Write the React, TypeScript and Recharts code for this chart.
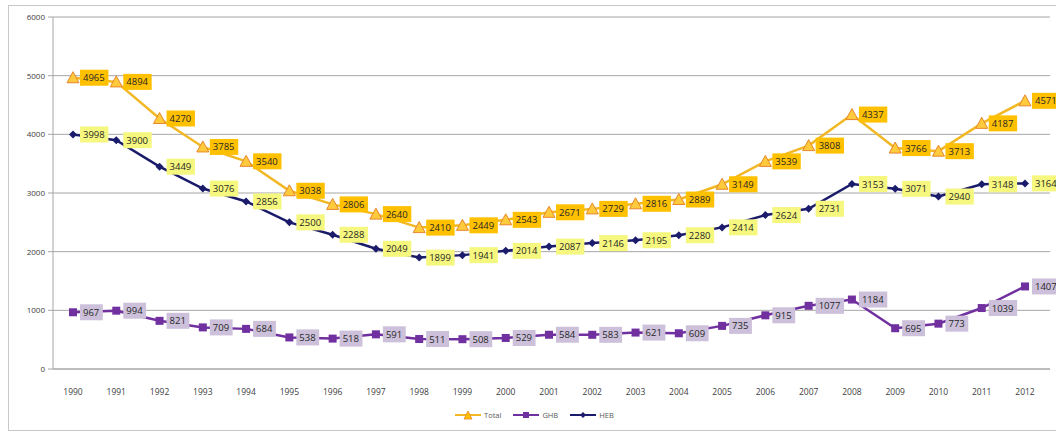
import React from 'react'
import { LineChart, Line, XAxis, YAxis, CartesianGrid, LabelList } from 'recharts'

const years = ['1990', '1991', '1992', '1993', '1994', '1995', '1996', '1997', '1998', '1999', '2000', '2001', '2002', '2003', '2004', '2005', '2006', '2007', '2008', '2009', '2010', '2011', '2012']
const total = [4965, 4894, 4270, 3785, 3540, 3038, 2806, 2640, 2410, 2449, 2543, 2671, 2729, 2816, 2889, 3149, 3539, 3808, 4337, 3766, 3713, 4187, 4571]
const ghb = [967, 994, 821, 709, 684, 538, 518, 591, 511, 508, 529, 584, 583, 621, 609, 735, 915, 1077, 1184, 695, 773, 1039, 1407]
const heb = [3998, 3900, 3449, 3076, 2856, 2500, 2288, 2049, 1899, 1941, 2014, 2087, 2146, 2195, 2280, 2414, 2624, 2731, 3153, 3071, 2940, 3148, 3164]
const yTicks = [0, 1000, 2000, 3000, 4000, 5000, 6000]

const data = years.map((year, i) => ({ year, Total: total[i], GHB: ghb[i], HEB: heb[i] }))

const FONT = '"Open Sans", sans-serif'
const TOTAL_LINE = '#F2B824'
const TOTAL_FILL = '#FFC000'
const GHB_COLOR = '#7030A0'
const HEB_COLOR = '#1B1B6B'

const makeLabel = (bg: string) => (props: any) => {
  const { x, y, value } = props
  const w = String(value).length * 5.6 + 6
  return (
    <g>
      <rect x={x + 7} y={y - 8} width={w} height={16} fill={bg} />
      <text x={x + 10} y={y + 3.5} fontSize={9.5} fontFamily={FONT} fill="#262626">
        {value}
      </text>
    </g>
  )
}

const TriangleDot = (props: any) => {
  const { cx, cy } = props
  if (cx == null || cy == null) return null
  return (
    <polygon
      points={`${cx},${cy - 6} ${cx + 6},${cy + 5} ${cx - 6},${cy + 5}`}
      fill="#FFCB3D"
      stroke="#E8862A"
      strokeWidth={1}
    />
  )
}

const SquareDot = (props: any) => {
  const { cx, cy } = props
  if (cx == null || cy == null) return null
  return <rect x={cx - 4} y={cy - 4} width={8} height={8} fill={GHB_COLOR} />
}

const DiamondDot = (props: any) => {
  const { cx, cy } = props
  if (cx == null || cy == null) return null
  return <polygon points={`${cx},${cy - 4} ${cx + 4},${cy} ${cx},${cy + 4} ${cx - 4},${cy}`} fill={HEB_COLOR} />
}

function LegendItem({ label, color, marker }: { label: string; color: string; marker: React.ReactNode }) {
  return (
    <div style={{ display: 'flex', alignItems: 'center', marginRight: 12 }}>
      <svg width={26} height={10}>
        <line x1={0} y1={5} x2={26} y2={5} stroke={color} strokeWidth={2} />
        {marker}
      </svg>
      <span style={{ marginLeft: 3, fontSize: 7.5, color: '#595959', fontFamily: FONT }}>{label}</span>
    </div>
  )
}

export default function App() {
  return (
    <div style={{ position: 'absolute', left: 0, top: 0, width: 1056, height: 432, background: '#fff' }}>
      <div style={{ position: 'absolute', left: 8, top: 5, width: 1060, height: 424, border: '1px solid #C8C8C8' }} />
      <div style={{ position: 'absolute', left: 0, top: 0 }}>
        <LineChart width={1056} height={432} data={data} margin={{ top: 17, right: 6, left: 8, bottom: 33 }}>
          <CartesianGrid vertical={false} stroke="#A6A6A6" strokeWidth={1} />
          <XAxis
            dataKey="year"
            padding={{ left: 20, right: 25 }}
            axisLine={{ stroke: '#A6A6A6' }}
            tickLine={false}
            tickMargin={14}
            height={30}
            interval={0}
            tick={{ fontSize: 8.5, fill: '#404040', fontFamily: FONT }}
          />
          <YAxis
            domain={[0, 6000]}
            ticks={yTicks}
            width={45}
            axisLine={{ stroke: '#A6A6A6' }}
            tickLine={{ stroke: '#A6A6A6' }}
            tickSize={5}
            tickMargin={3}
            tick={{ fontSize: 8, fill: '#404040', fontFamily: FONT }}
          />
          <Line
            dataKey="Total"
            stroke={TOTAL_LINE}
            strokeWidth={2.5}
            dot={<TriangleDot />}
            isAnimationActive={false}
          >
            <LabelList dataKey="Total" content={makeLabel('#FFC000')} />
          </Line>
          <Line dataKey="GHB" stroke={GHB_COLOR} strokeWidth={2.5} dot={<SquareDot />} isAnimationActive={false}>
            <LabelList dataKey="GHB" content={makeLabel('#CCC0DA')} />
          </Line>
          <Line dataKey="HEB" stroke={HEB_COLOR} strokeWidth={2.5} dot={<DiamondDot />} isAnimationActive={false}>
            <LabelList dataKey="HEB" content={makeLabel('#F6F77E')} />
          </Line>
        </LineChart>
      </div>
      <div style={{ position: 'absolute', left: 455, top: 410, display: 'flex' }}>
        <LegendItem
          label="Total"
          color={TOTAL_LINE}
          marker={<polygon points="13,1 17,9 9,9" fill={TOTAL_FILL} stroke="#E8862A" strokeWidth={0.8} />}
        />
        <LegendItem label="GHB" color={GHB_COLOR} marker={<rect x={10} y={2} width={6} height={6} fill={GHB_COLOR} />} />
        <LegendItem label="HEB" color={HEB_COLOR} marker={<polygon points="13,2 16,5 13,8 10,5" fill={HEB_COLOR} />} />
      </div>
    </div>
  )
}
